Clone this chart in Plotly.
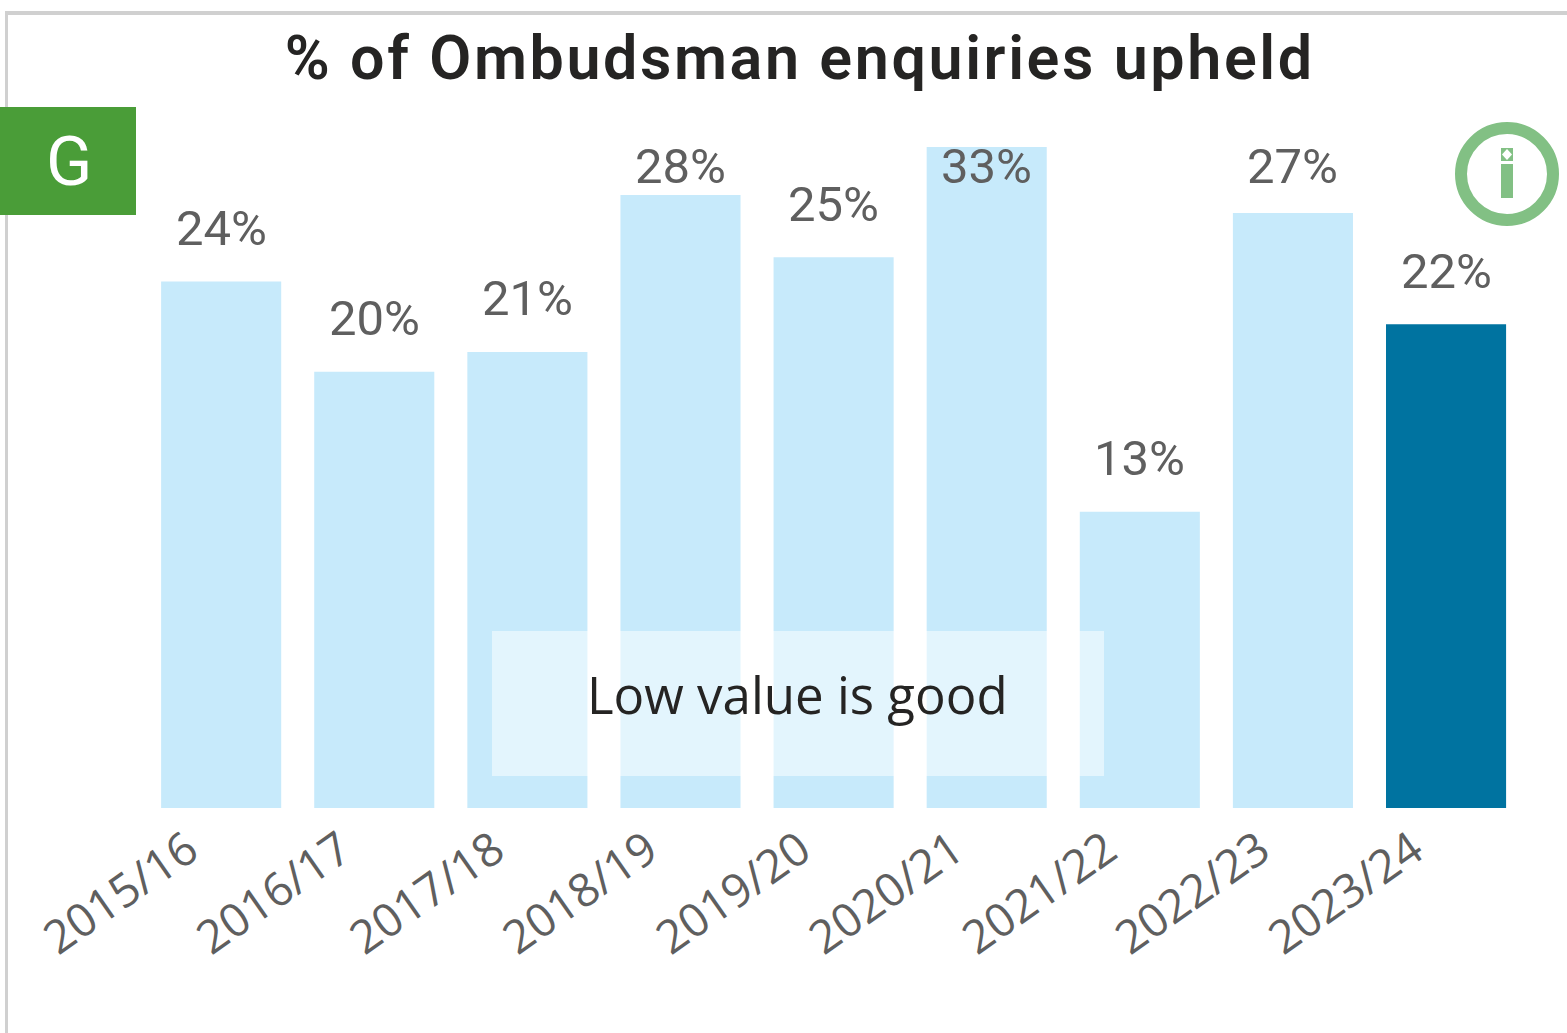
import plotly.graph_objects as go

years = ["2015/16", "2016/17", "2017/18", "2018/19", "2019/20", "2020/21", "2021/22", "2022/23", "2023/24"]
values = [23.9, 19.8, 20.7, 27.82, 25, 33, 13.45, 27, 21.96]
labels = ["24%", "20%", "21%", "28%", "25%", "33%", "13%", "27%", "22%"]
LIGHT, DARK = "#c7eafb", "#0073a0"
colors = [LIGHT] * 8 + [DARK]

W, H = 1567, 1033
def px(x): return x / W
def py(y): return 1 - y / H

fig = go.Figure(go.Bar(x=years, y=values, marker=dict(color=colors, line_width=0),
                       hoverinfo="skip"))

def rect(x0, y0, x1, y1, **kw):
    return dict(type="rect", xref="paper", yref="paper", x0=px(x0), x1=px(x1),
                y0=py(y1), y1=py(y0), line_width=0, **kw)

GREEN, ICON = "#4a9d38", "#82c084"
shapes = [
    rect(5, 11, 8, 1033, fillcolor="#d0d0d0"),
    rect(5, 11, 1567, 15, fillcolor="#d0d0d0"),
    rect(0, 107, 136, 215, fillcolor=GREEN),
    rect(492, 631, 1104, 776, fillcolor="rgba(255,255,255,0.5)"),
    dict(type="circle", xref="paper", yref="paper", x0=px(1461), x1=px(1553), y0=py(220), y1=py(128),
         line=dict(color=ICON, width=12), fillcolor="rgba(0,0,0,0)"),
    rect(1501, 148, 1513, 161, fillcolor=ICON),
    rect(1501, 164, 1513, 198, fillcolor=ICON),
    dict(type="path", xref="paper", yref="paper", line_width=0, fillcolor="white",
         path=f"M {px(1507)} {py(149)} L {px(1512)} {py(154.5)} L {px(1507)} {py(160)} L {px(1502)} {py(154.5)} Z"),
]

LABEL_CAP = 26.7
annotations = [
    dict(x=c, y=min(v, LABEL_CAP), yref="y", xref="x", text=t, showarrow=False, yanchor="middle",
         xanchor="center", yshift=53,
         font=dict(family="Roboto, sans-serif", size=49, color="#5f5f5f", weight=400))
    for c, v, t in zip(years, values, labels)
]
annotations += [
    dict(x=px(799), y=py(58), xref="paper", yref="paper", text="% of Ombudsman enquiries upheld",
         xanchor="center", yanchor="middle", showarrow=False,
         font=dict(family="Roboto, sans-serif", size=61, color="#252423", weight=600)),
    dict(x=px(69), y=py(162), xref="paper", yref="paper", text="G", showarrow=False,
         xanchor="center", yanchor="middle",
         font=dict(family="Roboto, sans-serif", size=68, color="white")),
    dict(x=px(797), y=py(694), xref="paper", yref="paper", text="Low value is good", showarrow=False,
         xanchor="center", yanchor="middle",
         font=dict(family="Open Sans, sans-serif", size=51, color="#252423")),
]

fig.update_layout(
    width=W, height=H, margin=dict(l=0, r=0, t=0, b=0, autoexpand=False),
    paper_bgcolor="white", plot_bgcolor="white", showlegend=False, bargap=0.2157,
    shapes=shapes, annotations=annotations,
    xaxis=dict(domain=[px(144.6), px(1522.6)], range=[-0.5, 8.5], type="category", showgrid=False,
               zeroline=False, showline=False, ticks="", tickangle=-35, automargin=False,
               ticklabelshift=-33, ticklabelstandoff=5,
               tickfont=dict(family="Open Sans, sans-serif", size=46, color="#5f5f5f")),
    yaxis=dict(domain=[py(808), py(147)], range=[0, 30], visible=False, automargin=False),
)
title_spacing = """
document.body.style.margin='0';document.body.style.overflow='hidden';
document.querySelectorAll('.annotation-text').forEach(function(t){
  if (t.textContent.indexOf('Ombudsman') >= 0) t.style.letterSpacing='2.6px';
});
"""
fig.write_html("out.html", config=dict(displayModeBar=False), post_script=title_spacing)
